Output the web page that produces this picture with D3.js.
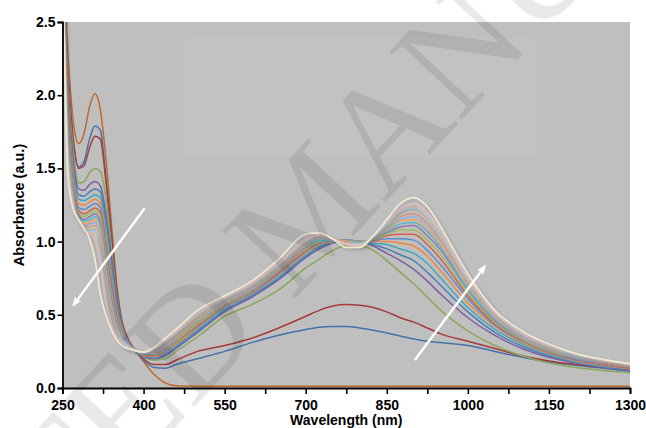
<!DOCTYPE html>
<html>
<head>
<meta charset="utf-8">
<script src="https://cdn.jsdelivr.net/npm/d3@7/dist/d3.min.js"></script>
<style>
  html, body { margin: 0; padding: 0; background: #ffffff; }
  svg { display: block; }
  text { font-family: "Liberation Sans", Arial, sans-serif; }
</style>
</head>
<body>
<svg id="chart" width="646" height="428"></svg>
<script>
// Wavelength grid (nm) shared by every spectrum
const wavelengths = [250,260,270,280,290,300,310,320,330,340,350,360,370,380,390,400,
  420,440,460,500,550,600,650,700,725,750,775,800,825,850,875,900,925,950,
  1000,1050,1100,1150,1200,1250,1300];

// Axis ticks and labels
const xTicks = [250,325,400,475,550,625,700,775,850,925,1000,1075,1150,1225,1300];
const xTickLabels = [250,400,550,700,850,1000,1150,1300];
const yTicks = [0,0.5,1.0,1.5,2.0,2.5];

// Absorbance of each spectrum of the titration, in recording order
const spectra = [
  [3.10,2.30,1.82,1.67,1.74,1.92,2.01,1.90,1.58,1.15,0.72,0.46,0.35,0.28,0.23,0.18,0.09,0.035,0.015,0.012,0.012,0.012,0.012,0.012,0.012,0.012,0.012,0.012,0.012,0.012,0.012,0.012,0.012,0.012,0.012,0.012,0.012,0.012,0.012,0.012,0.012],
  [3.00,2.15,1.68,1.51,1.55,1.70,1.79,1.76,1.45,1.08,0.68,0.44,0.33,0.27,0.23,0.19,0.14,0.135,0.16,0.20,0.25,0.31,0.36,0.40,0.415,0.42,0.42,0.41,0.395,0.375,0.355,0.335,0.32,0.31,0.29,0.25,0.21,0.18,0.155,0.135,0.115],
  [3.00,2.18,1.70,1.50,1.52,1.64,1.72,1.70,1.42,1.06,0.68,0.45,0.34,0.28,0.24,0.20,0.16,0.16,0.19,0.25,0.29,0.34,0.41,0.49,0.53,0.56,0.57,0.565,0.55,0.52,0.48,0.45,0.41,0.37,0.32,0.27,0.22,0.185,0.16,0.14,0.125],
  [3.00,2.10,1.62,1.40,1.41,1.47,1.50,1.48,1.30,0.98,0.64,0.43,0.33,0.27,0.24,0.21,0.19,0.20,0.25,0.35,0.49,0.57,0.67,0.82,0.88,0.94,0.97,0.97,0.94,0.87,0.79,0.71,0.62,0.53,0.39,0.29,0.22,0.17,0.14,0.12,0.105],
  [3.00,2.05,1.56,1.36,1.35,1.39,1.41,1.38,1.20,0.92,0.62,0.43,0.33,0.27,0.24,0.215,0.20,0.22,0.27,0.38,0.52,0.62,0.74,0.89,0.95,0.99,1.01,1.00,0.97,0.92,0.87,0.81,0.73,0.64,0.48,0.36,0.27,0.21,0.17,0.14,0.12],
  [3.00,2.02,1.52,1.32,1.31,1.34,1.36,1.34,1.15,0.87,0.59,0.42,0.33,0.27,0.24,0.22,0.205,0.23,0.28,0.39,0.53,0.63,0.75,0.90,0.96,0.995,1.01,1.00,0.98,0.95,0.91,0.87,0.79,0.70,0.52,0.38,0.285,0.22,0.175,0.145,0.125],
  [3.00,1.99,1.49,1.29,1.28,1.30,1.32,1.30,1.10,0.82,0.56,0.41,0.32,0.27,0.24,0.22,0.21,0.24,0.29,0.40,0.54,0.64,0.76,0.91,0.97,1.00,1.01,1.00,0.99,0.98,0.95,0.92,0.85,0.75,0.55,0.40,0.30,0.23,0.18,0.15,0.13],
  [3.00,1.96,1.46,1.26,1.25,1.27,1.29,1.26,1.05,0.78,0.53,0.40,0.32,0.27,0.24,0.22,0.215,0.245,0.30,0.41,0.55,0.645,0.77,0.92,0.98,1.00,1.01,1.00,1.00,1.00,0.99,0.97,0.90,0.80,0.58,0.42,0.31,0.235,0.185,0.155,0.13],
  [3.00,1.93,1.43,1.23,1.22,1.24,1.26,1.23,1.00,0.74,0.51,0.39,0.32,0.27,0.24,0.225,0.22,0.25,0.31,0.42,0.555,0.65,0.78,0.93,0.99,1.005,1.01,1.00,1.005,1.02,1.02,1.01,0.94,0.84,0.61,0.43,0.32,0.24,0.19,0.16,0.135],
  [3.00,1.90,1.41,1.21,1.19,1.21,1.23,1.20,0.96,0.70,0.49,0.38,0.31,0.27,0.24,0.225,0.225,0.26,0.315,0.43,0.56,0.655,0.79,0.94,1.00,1.01,1.005,1.00,1.01,1.04,1.05,1.05,0.98,0.88,0.63,0.44,0.325,0.245,0.195,0.16,0.135],
  [3.00,1.87,1.39,1.19,1.17,1.19,1.21,1.17,0.92,0.66,0.47,0.37,0.31,0.27,0.24,0.23,0.23,0.265,0.32,0.44,0.565,0.66,0.80,0.95,1.00,1.01,1.005,1.00,1.015,1.05,1.08,1.08,1.01,0.91,0.65,0.45,0.33,0.25,0.20,0.165,0.14],
  [3.00,1.84,1.37,1.18,1.15,1.17,1.19,1.14,0.88,0.63,0.45,0.36,0.31,0.27,0.24,0.23,0.235,0.27,0.33,0.45,0.57,0.665,0.805,0.96,1.01,1.01,1.00,0.995,1.02,1.06,1.10,1.11,1.04,0.94,0.67,0.46,0.335,0.255,0.20,0.165,0.14],
  [3.00,1.81,1.35,1.17,1.14,1.15,1.17,1.11,0.84,0.60,0.43,0.35,0.30,0.27,0.24,0.23,0.24,0.28,0.335,0.455,0.575,0.67,0.81,0.97,1.01,1.01,1.00,0.995,1.02,1.07,1.12,1.13,1.07,0.96,0.68,0.47,0.34,0.26,0.205,0.17,0.145],
  [3.00,1.78,1.33,1.16,1.12,1.13,1.15,1.08,0.80,0.57,0.42,0.34,0.30,0.27,0.25,0.235,0.245,0.285,0.34,0.46,0.58,0.675,0.815,0.975,1.02,1.015,1.00,0.99,1.025,1.08,1.14,1.15,1.09,0.98,0.70,0.48,0.345,0.265,0.21,0.17,0.145],
  [3.00,1.75,1.32,1.15,1.11,1.12,1.13,1.05,0.77,0.54,0.41,0.34,0.30,0.27,0.25,0.235,0.25,0.29,0.35,0.47,0.585,0.68,0.82,0.98,1.02,1.015,0.995,0.99,1.025,1.09,1.15,1.17,1.11,1.00,0.71,0.485,0.35,0.27,0.21,0.175,0.15],
  [3.00,1.72,1.30,1.15,1.10,1.10,1.11,1.02,0.74,0.52,0.40,0.33,0.29,0.27,0.25,0.24,0.255,0.30,0.355,0.475,0.59,0.685,0.825,0.985,1.03,1.02,0.995,0.985,1.03,1.10,1.17,1.19,1.13,1.01,0.72,0.49,0.355,0.27,0.215,0.175,0.15],
  [3.00,1.69,1.29,1.14,1.09,1.09,1.10,0.99,0.71,0.50,0.39,0.33,0.29,0.27,0.25,0.24,0.26,0.305,0.36,0.48,0.595,0.69,0.83,0.99,1.03,1.02,0.99,0.985,1.03,1.10,1.18,1.21,1.15,1.03,0.73,0.495,0.36,0.275,0.215,0.18,0.15],
  [3.00,1.66,1.28,1.14,1.08,1.08,1.08,0.96,0.68,0.48,0.38,0.32,0.29,0.26,0.25,0.24,0.26,0.31,0.365,0.49,0.60,0.695,0.835,0.995,1.035,1.02,0.99,0.98,1.03,1.11,1.19,1.22,1.16,1.04,0.74,0.50,0.36,0.28,0.22,0.18,0.155],
  [3.00,1.63,1.27,1.14,1.08,1.07,1.07,0.93,0.65,0.46,0.37,0.32,0.29,0.26,0.25,0.24,0.265,0.315,0.37,0.495,0.605,0.70,0.84,1.00,1.04,1.02,0.985,0.98,1.035,1.11,1.20,1.23,1.17,1.05,0.745,0.505,0.365,0.28,0.22,0.185,0.155],
  [3.00,1.60,1.26,1.14,1.08,1.06,1.05,0.90,0.62,0.45,0.36,0.31,0.28,0.26,0.25,0.245,0.27,0.32,0.375,0.50,0.61,0.705,0.845,1.005,1.04,1.02,0.985,0.975,1.035,1.12,1.21,1.24,1.18,1.06,0.75,0.51,0.37,0.285,0.225,0.185,0.16],
  [3.00,1.58,1.25,1.14,1.08,1.05,1.03,0.87,0.60,0.44,0.35,0.31,0.28,0.26,0.25,0.245,0.27,0.325,0.38,0.505,0.615,0.71,0.85,1.01,1.045,1.02,0.98,0.975,1.035,1.12,1.22,1.25,1.19,1.07,0.755,0.515,0.37,0.285,0.225,0.19,0.16],
  [3.00,1.55,1.24,1.14,1.08,1.05,1.01,0.84,0.58,0.43,0.35,0.31,0.28,0.26,0.25,0.245,0.275,0.33,0.385,0.51,0.62,0.715,0.855,1.02,1.05,1.02,0.98,0.97,1.04,1.13,1.23,1.26,1.20,1.08,0.76,0.52,0.375,0.29,0.23,0.19,0.16],
  [3.00,1.45,1.22,1.15,1.09,1.02,0.88,0.64,0.50,0.40,0.33,0.29,0.27,0.26,0.25,0.245,0.28,0.34,0.40,0.53,0.63,0.73,0.88,1.05,1.06,1.02,0.96,0.96,1.04,1.15,1.26,1.30,1.24,1.10,0.78,0.53,0.39,0.30,0.235,0.195,0.165]
];

// Line colour of each spectrum
const spectrumColors = [
  "#bd6a2c","#4672aa","#a53b3b","#8aa85a",
  "#7d5fa0","#4a7ebb","#3fa6c2","#f0883a","#5b8fd0","#d4604f",
  "#9cc05c","#9178b8","#56b8d0","#f6a05a","#8eb1dc","#df8c8a",
  "#bcd392","#b5a3cc","#9ed4e2","#f9c39a","#b9ccea","#e9bcbb",
  "#ecead2"
];

// Trend arrows, [wavelength, absorbance] of tail and head
const arrowTails = [[401.9, 1.228], [901.9, 0.191]];
const arrowHeads = [[270.4, 0.566], [1031.5, 0.832]];

const svg = d3.select("#chart");
const W = 646, H = 428;
const padL = 62.5, padR = 630, padT = 22, padB = 388;

const x = d3.scaleLinear().domain([250, 1300]).range([padL, padR]);
const y = d3.scaleLinear().domain([0, 2.5]).range([padB, padT]);

svg.append("rect").attr("width", W).attr("height", H).attr("fill", "#ffffff");

const defs = svg.append("defs");
defs.append("clipPath").attr("id", "plotClip")
  .append("rect").attr("x", padL).attr("y", padT)
  .attr("width", padR - padL).attr("height", padB - padT);

const shadow = defs.append("filter").attr("id", "lineShadow")
  .attr("x", "-5%").attr("y", "-5%").attr("width", "110%").attr("height", "110%");
shadow.append("feGaussianBlur").attr("in", "SourceAlpha").attr("stdDeviation", 1.6).attr("result", "blur");
shadow.append("feOffset").attr("in", "blur").attr("dx", 1.5).attr("dy", 1.5).attr("result", "off");
shadow.append("feFlood").attr("flood-color", "#555555").attr("flood-opacity", 0.3).attr("result", "col");
shadow.append("feComposite").attr("in", "col").attr("in2", "off").attr("operator", "in").attr("result", "sh");
const merge = shadow.append("feMerge");
merge.append("feMergeNode").attr("in", "sh");
merge.append("feMergeNode").attr("in", "SourceGraphic");

defs.append("marker").attr("id", "arrowHead")
  .attr("viewBox", "0 0 10 10").attr("refX", 8).attr("refY", 5)
  .attr("markerWidth", 10).attr("markerHeight", 10)
  .attr("markerUnits", "userSpaceOnUse").attr("orient", "auto")
  .append("path").attr("d", "M0,1 L10,5 L0,9 L2,5 Z").attr("fill", "#ffffff");

// plot background
svg.append("rect").attr("x", padL).attr("y", padT)
  .attr("width", padR - padL).attr("height", padB - padT)
  .attr("fill", "#bfbfbf");
svg.append("rect").attr("x", 183).attr("y", 38).attr("width", 354).attr("height", 119)
  .attr("rx", 10).attr("fill", "#ffffff").attr("opacity", 0.06);

// spectra
const line = d3.line()
  .x((d, i) => x(wavelengths[i]))
  .y(d => y(d))
  .curve(d3.curveMonotoneX);

const plot = svg.append("g").attr("clip-path", "url(#plotClip)");
plot.selectAll("path.spectrum")
  .data(spectra)
  .join("path")
  .attr("class", "spectrum")
  .attr("d", d => line(d))
  .attr("fill", "none")
  .attr("stroke", (d, i) => spectrumColors[i])
  .attr("stroke-width", (d, i) => i === spectra.length - 1 ? 1.7 : 1.5)
  .attr("filter", (d, i) => i >= spectra.length - 3 ? "url(#lineShadow)" : null);

// arrows
svg.append("g").selectAll("line")
  .data(arrowTails)
  .join("line")
  .attr("x1", d => x(d[0])).attr("y1", d => y(d[1]))
  .attr("x2", (d, i) => x(arrowHeads[i][0])).attr("y2", (d, i) => y(arrowHeads[i][1]))
  .attr("stroke", "#ffffff").attr("stroke-width", 2.4)
  .attr("marker-end", "url(#arrowHead)");

// axes
const yAxis = d3.axisLeft(y).tickValues(yTicks).tickFormat(d3.format(".1f"))
  .tickSize(5).tickPadding(2);
const xAxis = d3.axisBottom(x).tickValues(xTicks)
  .tickFormat(d => xTickLabels.includes(d) ? d : "")
  .tickSize(6).tickPadding(6);

const gy = svg.append("g").attr("transform", `translate(${padL},0)`).call(yAxis);
const gx = svg.append("g").attr("transform", `translate(0,${padB})`).call(xAxis);
[gx, gy].forEach(g => {
  g.select(".domain").attr("stroke", "#000").attr("stroke-width", 1.8);
  g.selectAll(".tick line").attr("stroke", "#000").attr("stroke-width", 1.6);
  g.selectAll(".tick text").attr("fill", "#000")
    .style("font-family", '"Liberation Sans", Arial, sans-serif')
    .style("font-weight", "bold").style("font-size", "14px");
});

svg.append("text")
  .attr("transform", `translate(24,${(padT + padB) / 2}) rotate(-90)`)
  .attr("text-anchor", "middle")
  .style("font-weight", "bold").style("font-size", "14.5px")
  .text("Absorbance (a.u.)");

svg.append("text")
  .attr("x", (padL + padR) / 2).attr("y", 425)
  .attr("text-anchor", "middle")
  .style("font-weight", "bold").style("font-size", "14px")
  .text("Wavelength (nm)");

// manuscript watermark
svg.append("text")
  .attr("transform", "translate(308,210) rotate(-47)")
  .attr("text-anchor", "middle")
  .attr("dominant-baseline", "central")
  .style("font-family", '"Liberation Serif", "Times New Roman", serif')
  .style("font-size", "152px")
  .attr("fill", "#000").attr("fill-opacity", 0.085)
  .text("ACCEPTED MANUSCRIPT");
</script>
</body>
</html>
